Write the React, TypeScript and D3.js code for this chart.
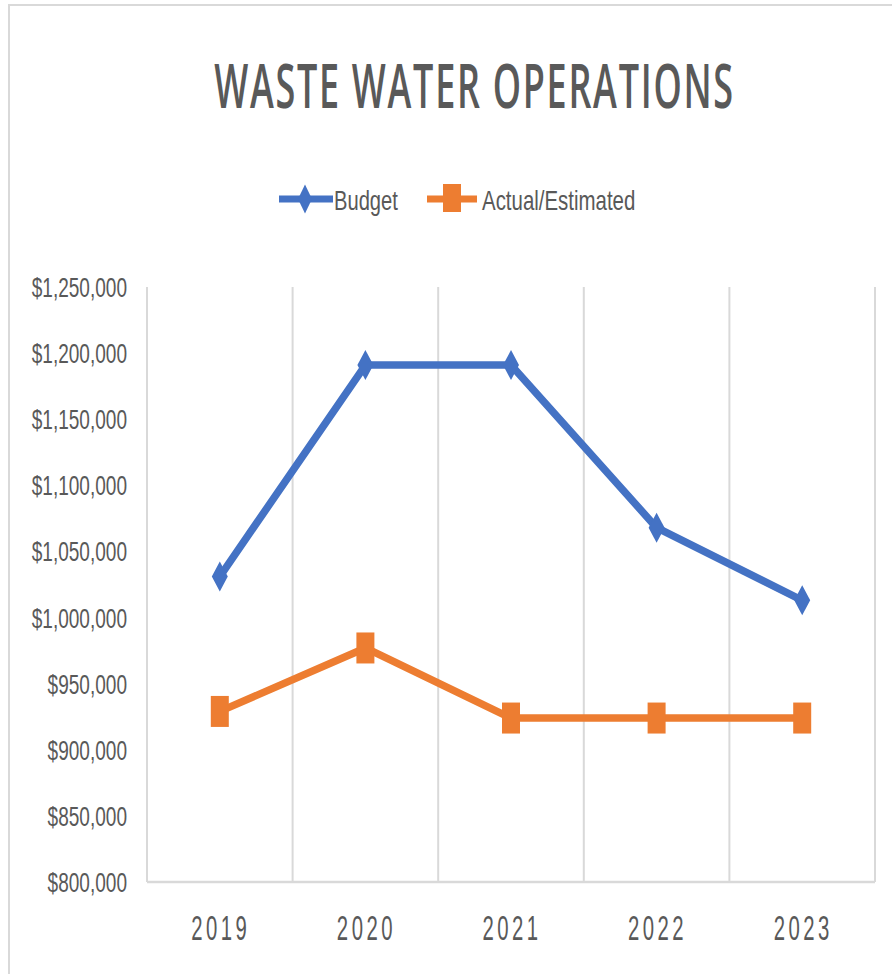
import * as d3 from 'd3';

const years = ['2019', '2020', '2021', '2022', '2023'];
const budget = [1031000, 1191000, 1191000, 1068000, 1013000];
const actual = [929000, 977000, 924000, 924000, 924000];
const yTicks = [800000, 850000, 900000, 950000, 1000000, 1050000, 1100000, 1150000, 1200000, 1250000];

const BLUE = '#4472C4';
const ORANGE = '#ED7D31';
const TEXT = '#595959';
const GRID = '#d9d9d9';
const FONT = '"Liberation Sans", Arial, sans-serif';

const plot = { left: 147, right: 875, top: 287, bottom: 882 };

const diamond = (w: number, h: number) => `M0,${-h / 2}L${w / 2},0L0,${h / 2}L${-w / 2},0Z`;
const square = (w: number, h: number) => `M${-w / 2},${-h / 2}h${w}v${h}h${-w}Z`;

const App = () => {
  const x = d3.scaleBand().domain(years).range([plot.left, plot.right]);
  const y = d3.scaleLinear().domain([800000, 1250000]).range([plot.bottom, plot.top]);
  const cx = (d: string) => (x(d) as number) + x.bandwidth() / 2;
  const fmt = d3.format('$,.0f');

  const line = d3
    .line<number>()
    .x((_, i) => cx(years[i]))
    .y((v) => y(v));

  const boundaries = d3.range(years.length + 1).map((i) => plot.left + i * x.step());

  return (
    <svg
      width={892}
      height={974}
      style={{ position: 'absolute', left: 0, top: 0, background: '#fff' }}
      fontFamily={FONT}
    >
      <rect x={9} y={5} width={900} height={1000} fill="#fff" stroke={GRID} strokeWidth={2} />

      {/* title */}
      <text
        transform="translate(474.5,108) scale(0.58,1)"
        textAnchor="middle"
        fontSize={62}
        fontWeight={600}
        fontFamily='"Open Sans", sans-serif'
        letterSpacing={3}
        fill={TEXT}
      >
        WASTE WATER OPERATIONS
      </text>

      {/* legend */}
      <g>
        <line x1={279} x2={333} y1={199} y2={199} stroke={BLUE} strokeWidth={7} />
        <path d={diamond(14, 29)} transform="translate(305,199)" fill={BLUE} />
        <text transform="translate(334,210) scale(0.72,1)" fontSize={28} fill={TEXT}>
          Budget
        </text>
        <line x1={427} x2={477} y1={199} y2={199} stroke={ORANGE} strokeWidth={7} />
        <path d={square(18, 28)} transform="translate(452,198)" fill={ORANGE} />
        <text transform="translate(482,210) scale(0.73,1)" fontSize={28} fill={TEXT}>
          Actual/Estimated
        </text>
      </g>

      {/* vertical gridlines */}
      {boundaries.map((bx, i) => (
        <line key={i} x1={bx} x2={bx} y1={plot.top} y2={plot.bottom} stroke={GRID} strokeWidth={2} />
      ))}
      <line x1={plot.left} x2={plot.right} y1={plot.bottom} y2={plot.bottom} stroke={GRID} strokeWidth={2.5} />

      {/* y labels */}
      {yTicks.map((t) => (
        <text
          key={t}
          transform={`translate(127,${y(t) + 10}) scale(0.68,1)`}
          textAnchor="end"
          fontSize={28}
          fill={TEXT}
        >
          {fmt(t)}
        </text>
      ))}

      {/* x labels */}
      {years.map((yr) => (
        <text
          key={yr}
          transform={`translate(${cx(yr) + 1},940) scale(0.58,1)`}
          textAnchor="middle"
          fontSize={35}
          letterSpacing={6}
          fill={TEXT}
        >
          {yr}
        </text>
      ))}

      {/* series */}
      <path d={line(budget) as string} fill="none" stroke={BLUE} strokeWidth={7.5} strokeLinejoin="round" />
      {budget.map((v, i) => (
        <path key={i} d={diamond(16, 30)} transform={`translate(${cx(years[i])},${y(v)})`} fill={BLUE} />
      ))}

      <path d={line(actual) as string} fill="none" stroke={ORANGE} strokeWidth={7.5} strokeLinejoin="round" />
      {actual.map((v, i) => (
        <path key={i} d={square(18, 31)} transform={`translate(${cx(years[i])},${y(v)})`} fill={ORANGE} />
      ))}
    </svg>
  );
};

export default App;
